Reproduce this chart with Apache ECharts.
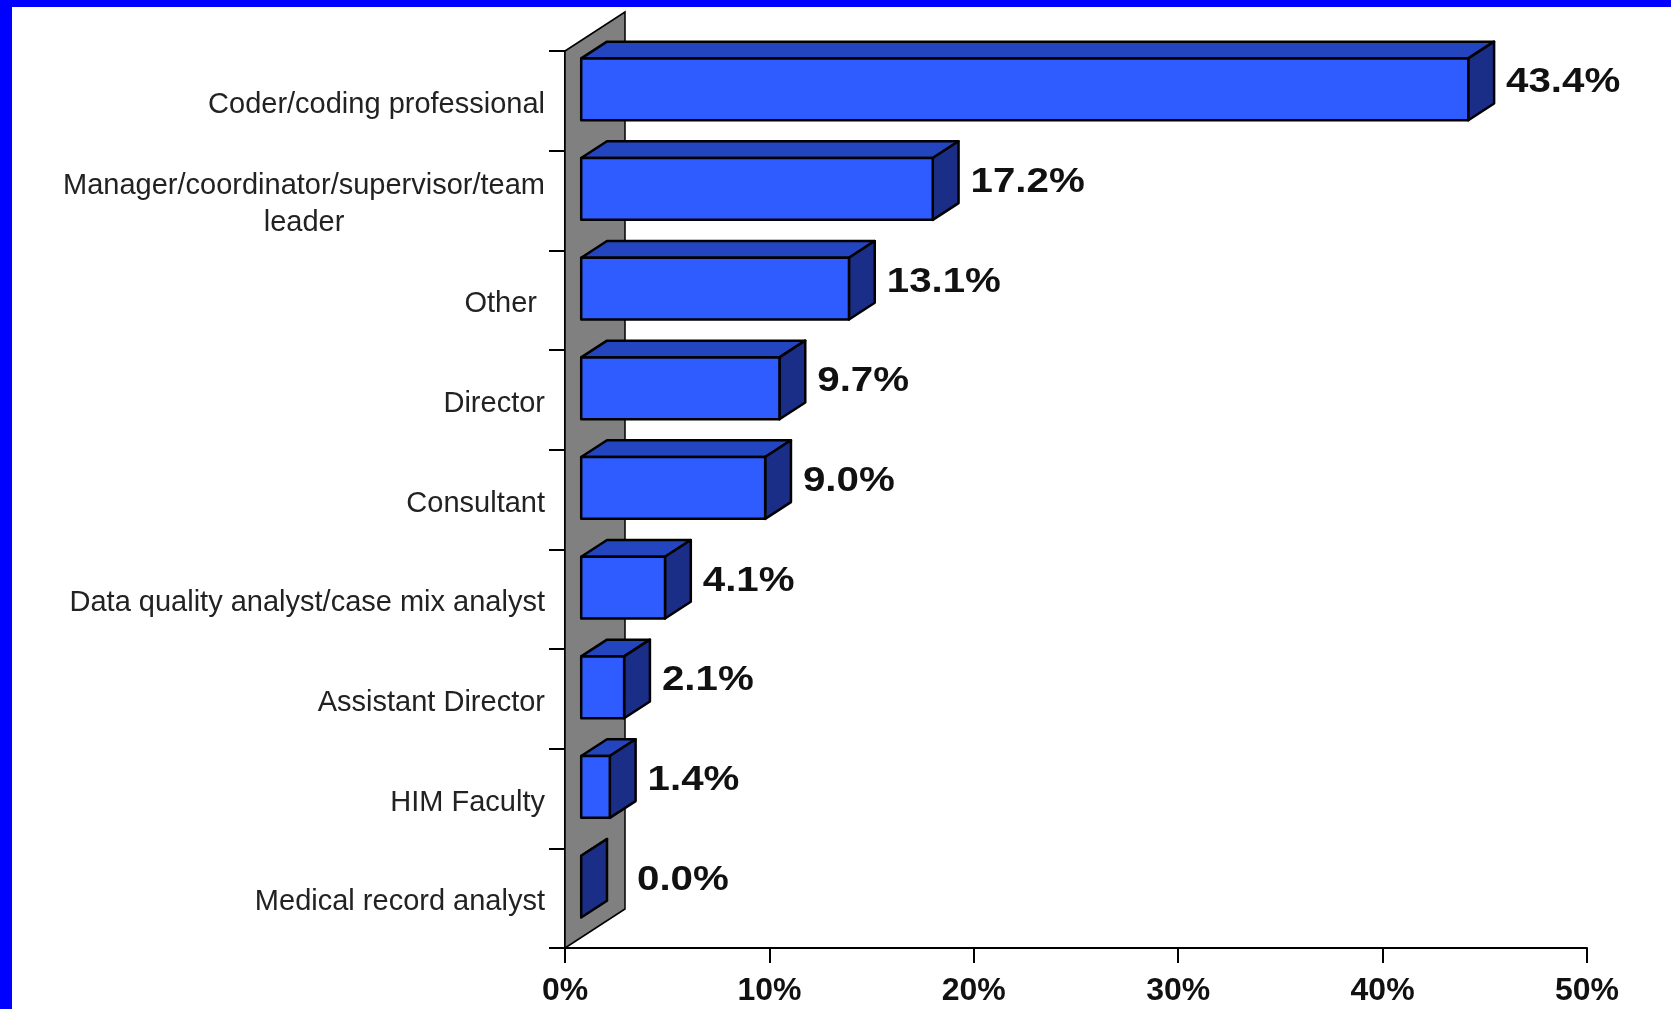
<!DOCTYPE html>
<html>
<head>
<meta charset="utf-8">
<script src="https://cdn.jsdelivr.net/npm/echarts@6/dist/echarts.min.js"></script>
<style>
  html, body { margin: 0; padding: 0; background: #fff; }
  #chart { width: 1671px; height: 1009px; }
</style>
</head>
<body>
<div id="chart"></div>
<script>
const categories = [
  'Coder/coding professional',
  'Manager/coordinator/supervisor/team\nleader',
  'Other ',
  'Director',
  'Consultant',
  'Data quality analyst/case mix analyst',
  'Assistant Director',
  'HIM Faculty',
  'Medical record analyst'
];
const values = [43.4, 17.2, 13.1, 9.7, 9.0, 4.1, 2.1, 1.4, 0.0];
const xTicks = { min: 0, max: 50, interval: 10 };

// 3D projection style constants
const DEPTH_X = 60, DEPTH_Y = -39;      // wall depth vector
const BAR_FRONT = 0.27, BAR_BACK = 0.70; // bar position within depth
const BAR_FRAC = 0.62;                   // bar thickness as fraction of band
const COL_FRONT = '#2F5CFF', COL_TOP = '#2445C0', COL_SIDE = '#1A2E88';

const chart = echarts.init(document.getElementById('chart'));

const option = {
  backgroundColor: '#ffffff',
  animation: false,
  graphic: [
    { type: 'rect', left: 0, top: 0, shape: { width: 1671, height: 7 }, style: { fill: '#0000FF' }, z: 100 },
    { type: 'rect', left: 0, top: 0, shape: { width: 12, height: 1009 }, style: { fill: '#0000FF' }, z: 100 }
  ],
  grid: { left: 565, right: 84, top: 51, bottom: 61, containLabel: false },
  xAxis: {
    type: 'value',
    min: xTicks.min, max: xTicks.max, interval: xTicks.interval,
    axisLine: { show: true, lineStyle: { color: '#000', width: 2 } },
    axisTick: { show: true, length: 15, lineStyle: { color: '#000', width: 2 } },
    splitLine: { show: false },
    axisLabel: {
      formatter: '{value}%',
      margin: 27,
      color: '#111',
      fontFamily: 'Liberation Sans',
      fontWeight: 'bold',
      fontSize: 32
    }
  },
  yAxis: {
    type: 'category',
    inverse: true,
    data: categories,
    axisLine: { show: true, lineStyle: { color: '#000', width: 2 } },
    axisTick: { show: true, length: 16, lineStyle: { color: '#000', width: 2 } },
    axisLabel: {
      interval: 0,
      margin: 20,
      color: '#222',
      fontFamily: 'Liberation Sans',
      fontSize: 29,
      lineHeight: 37,
      align: 'right',
      padding: [8, 0, 0, 0],
      formatter: function (val) {
        return val.split('\n').map(function (s) { return '{c|' + s + '}'; }).join('\n');
      },
      rich: {
        c: { align: 'center', fontFamily: 'Liberation Sans', fontSize: 29, lineHeight: 37, color: '#222' }
      }
    }
  },
  series: [
    {
      type: 'custom',
      name: 'wall',
      z: 1,
      silent: true,
      data: [[0]],
      renderItem: function (params, api) {
        const cs = params.coordSys;
        const x0 = cs.x, y0 = cs.y, y1 = cs.y + cs.height;
        return {
          type: 'polygon',
          shape: { points: [[x0, y0], [x0 + DEPTH_X, y0 + DEPTH_Y], [x0 + DEPTH_X, y1 + DEPTH_Y], [x0, y1]] },
          style: { fill: '#808080', stroke: '#000', lineWidth: 1.5 }
        };
      }
    },
    {
      type: 'custom',
      name: 'share',
      z: 3,
      silent: true,
      data: values.map((v, i) => [v, i]),
      encode: { x: 0, y: 1 },
      renderItem: function (params, api) {
        const v = api.value(0);
        const c = api.value(1);
        const p0 = api.coord([0, c]);
        const p1 = api.coord([v, c]);
        const band = api.size([0, 1])[1];
        const h = band * BAR_FRAC;
        const fx = DEPTH_X * BAR_FRONT, fy = DEPTH_Y * BAR_FRONT;
        const bx = DEPTH_X * BAR_BACK, by = DEPTH_Y * BAR_BACK;
        const dx = bx - fx, dy = by - fy;
        const xa = p0[0] + fx, xb = p1[0] + fx;
        const ya = p0[1] - h / 2 - 1 + fy, yb = ya + h;
        const border = { stroke: '#000', lineWidth: 2.5, lineJoin: 'round' };
        const wallRight = params.coordSys.x + DEPTH_X;
        const lx = Math.max(p1[0] + bx, wallRight) + 12;
        const children = [
          { type: 'polygon', shape: { points: [[xa, ya], [xb, ya], [xb + dx, ya + dy], [xa + dx, ya + dy]] },
            style: Object.assign({ fill: COL_TOP }, border) },
          { type: 'polygon', shape: { points: [[xb, ya], [xb + dx, ya + dy], [xb + dx, yb + dy], [xb, yb]] },
            style: Object.assign({ fill: COL_SIDE }, border) }
        ];
        if (xb - xa > 0.5) {
          children.push({ type: 'rect', shape: { x: xa, y: ya, width: xb - xa, height: h },
            style: Object.assign({ fill: COL_FRONT }, border) });
        }
        children.push({
          type: 'text', x: lx, y: p0[1] - 18, scaleX: 1.15, scaleY: 1,
          style: { text: v.toFixed(1) + '%', fill: '#111', font: 'bold 35px "Liberation Sans"',
                   align: 'left', verticalAlign: 'middle' }
        });
        return { type: 'group', children: children };
      }
    }
  ]
};
chart.setOption(option);
</script>
</body>
</html>
